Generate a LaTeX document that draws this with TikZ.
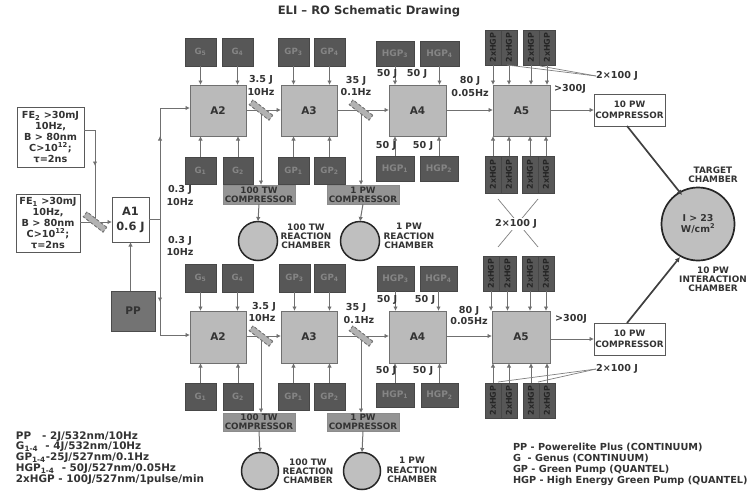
\documentclass[tikz,border=0pt]{standalone}
\usepackage{fontspec}
\setmainfont{DejaVu Sans}
\usetikzlibrary{arrows.meta,calc}
\definecolor{ink}{HTML}{333333}
\definecolor{wire}{HTML}{707070}
\tikzset{
  every node/.style={inner sep=0pt,outer sep=0pt,font=\bfseries\fontsize{8}{9}\selectfont,text=ink,align=center},
  amp/.style={draw=wire,line width=1pt,fill=black!27,font=\bfseries\fontsize{10.5}{12}\selectfont},
  gen/.style={draw=black!72,line width=1pt,fill=black!66,text=black!48,font=\bfseries\fontsize{8.6}{11}\selectfont},
  hgp/.style={gen,font=\bfseries\fontsize{9}{11}\selectfont},
  cell/.style={gen,text=black!85,font=\bfseries\fontsize{8}{9}\selectfont},
  pumpbox/.style={draw=black!70,line width=1pt,fill=black!55,text=ink,font=\bfseries\fontsize{10.5}{12}\selectfont},
  comp/.style={draw=black!45,line width=1pt,fill=black!42,text=ink,font=\bfseries\fontsize{8.8}{9}\selectfont},
  whitebox/.style={draw=black!65,line width=1pt,fill=white},
  fe/.style={whitebox,font=\bfseries\fontsize{9.7}{11}\selectfont},
  chamber/.style={circle,draw=black!85,line width=1.5pt,fill=black!25,minimum size=38pt},
  lab/.style={font=\bfseries\fontsize{9.6}{11}\selectfont},
  chlab/.style={font=\bfseries\fontsize{8.9}{9.2}\selectfont},
  legendL/.style={anchor=west,font=\bfseries\fontsize{10.4}{11}\selectfont},
  legendR/.style={anchor=west,font=\bfseries\fontsize{9.7}{11}\selectfont},
  conn/.style={draw=wire,line width=1pt},
  arr/.style={conn,-{Latex[length=4.5pt,width=4.5pt]}},
  heavy/.style={draw=black!75,line width=1.7pt,-{Latex[length=5pt,width=5pt]}},
  thin line/.style={draw=black!50,line width=.7pt},
  splitter/.style={draw=black!55,densely dashed,line width=.8pt,fill=black!30,minimum width=25pt,minimum height=6pt,rotate=-38},
}
% style, name, x1, y1, x2, y2, text
\newcommand\bx[7]{%
  \pgfmathsetmacro\bxw{#5-#3}\pgfmathsetmacro\bxh{#6-#4}%
  \pgfmathsetmacro\bxx{(#3+#5)/2}\pgfmathsetmacro\bxy{(#4+#6)/2}%
  \node[#1,minimum width=\bxw pt,minimum height=\bxh pt] (#2) at (\bxx,\bxy) {#7};}
\newcommand\sbs[1]{\textsubscript{#1}}
\begin{document}
\begin{tikzpicture}[x=1pt,y=-1pt]
\useasboundingbox[fill=white] (0,0) rectangle (751,490);
\node[font=\bfseries\fontsize{11.6}{13}\selectfont] (title) at (369,11) {ELI – RO Schematic Drawing};

% ---- front end
\bx{fe}{fetwo}{17}{107}{84}{167}{FE\sbs{2} >30mJ\\10Hz,\\B > 80nm\\C>10\textsuperscript{12};\\τ=2ns}
\bx{fe}{feone}{16}{194}{80}{252}{FE\sbs{1} >30mJ\\10Hz,\\B > 80nm\\C>10\textsuperscript{12};\\τ=2ns}
\bx{whitebox,font=\bfseries\fontsize{11.4}{15}\selectfont}{aone}{112}{197}{149}{242}{A1\\0.6 J}
\bx{pumpbox}{pp}{111}{291}{155}{331}{PP}
\node[splitter] (spf) at (95,222) {};

% ---- upper row
\bx{amp}{atwoT}{190}{85}{246}{136}{A2}
\bx{amp}{athreeT}{281}{85}{337}{136}{A3}
\bx{amp}{afourT}{389}{85}{446}{136}{A4}
\bx{amp}{afiveT}{493}{85}{550}{136}{A5}
\bx{gen}{gfiveT}{185}{38}{216}{66}{G\sbs{5}}
\bx{gen}{gfourT}{222}{38}{253}{66}{G\sbs{4}}
\bx{gen}{gpthreeT}{278}{38}{309}{66}{GP\sbs{3}}
\bx{gen}{gpfourT}{314}{38}{345}{66}{GP\sbs{4}}
\bx{hgp}{hthreeT}{376}{41}{414}{66}{HGP\sbs{3}}
\bx{hgp}{hfourT}{420}{41}{459}{66}{HGP\sbs{4}}
\bx{gen}{goneT}{185}{157}{216}{184}{G\sbs{1}}
\bx{gen}{gtwoT}{223}{157}{253}{184}{G\sbs{2}}
\bx{gen}{gponeT}{278}{157}{309}{184}{GP\sbs{1}}
\bx{gen}{gptwoT}{314}{157}{345}{184}{GP\sbs{2}}
\bx{hgp}{honeT}{376}{156}{414}{181}{HGP\sbs{1}}
\bx{hgp}{htwoT}{420}{156}{458}{181}{HGP\sbs{2}}
\bx{cell}{caT}{485}{30}{501}{65}{\rotatebox{90}{2xHGP}}
\bx{cell}{cbT}{501}{30}{517}{65}{\rotatebox{90}{2xHGP}}
\bx{cell}{ccT}{523}{30}{539}{65}{\rotatebox{90}{2xHGP}}
\bx{cell}{cdT}{539}{30}{555}{65}{\rotatebox{90}{2xHGP}}
\bx{cell}{ceT}{485}{156}{501}{193}{\rotatebox{90}{2xHGP}}
\bx{cell}{cfT}{501}{156}{517}{193}{\rotatebox{90}{2xHGP}}
\bx{cell}{cgT}{522}{156}{538}{193}{\rotatebox{90}{2xHGP}}
\bx{cell}{chT}{538}{156}{554}{193}{\rotatebox{90}{2xHGP}}
\bx{comp}{chunT}{223}{185}{295}{204}{100 TW\\COMPRESSOR}
\bx{comp}{cpwT}{327}{185}{399}{204}{1 PW\\COMPRESSOR}
\bx{whitebox,font=\bfseries\fontsize{8.8}{11}\selectfont}{ctenT}{594}{94}{665}{126}{10 PW\\COMPRESSOR}
\node[chamber,minimum size=39pt] (chhunT) at (258,241) {};
\node[chamber,minimum size=39pt] (chpwT) at (360,241) {};
\node[splitter] (spaT) at (261,110) {};
\node[splitter] (spbT) at (361,110) {};

% ---- lower row
\bx{amp}{atwoB}{190}{311}{246}{363}{A2}
\bx{amp}{athreeB}{281}{311}{337}{363}{A3}
\bx{amp}{afourB}{389}{311}{446}{363}{A4}
\bx{amp}{afiveB}{492}{311}{550}{363}{A5}
\bx{gen}{gfiveB}{185}{264}{216}{292}{G\sbs{5}}
\bx{gen}{gfourB}{222}{264}{253}{292}{G\sbs{4}}
\bx{gen}{gpthreeB}{279}{264}{310}{292}{GP\sbs{3}}
\bx{gen}{gpfourB}{314}{264}{345}{292}{GP\sbs{4}}
\bx{hgp}{hthreeB}{377}{266}{414}{291}{HGP\sbs{3}}
\bx{hgp}{hfourB}{420}{266}{457}{291}{HGP\sbs{4}}
\bx{gen}{goneB}{185}{383}{216}{410}{G\sbs{1}}
\bx{gen}{gtwoB}{223}{383}{253}{410}{G\sbs{2}}
\bx{gen}{gponeB}{278}{383}{309}{410}{GP\sbs{1}}
\bx{gen}{gptwoB}{314}{383}{345}{410}{GP\sbs{2}}
\bx{hgp}{honeB}{376}{383}{414}{407}{HGP\sbs{1}}
\bx{hgp}{htwoB}{421}{383}{458}{407}{HGP\sbs{2}}
\bx{cell}{caB}{483}{256}{499}{291}{\rotatebox{90}{2xHGP}}
\bx{cell}{cbB}{499}{256}{516}{291}{\rotatebox{90}{2xHGP}}
\bx{cell}{ccB}{522}{256}{538}{291}{\rotatebox{90}{2xHGP}}
\bx{cell}{cdB}{538}{256}{554}{291}{\rotatebox{90}{2xHGP}}
\bx{cell}{ceB}{485}{383}{501}{418}{\rotatebox{90}{2xHGP}}
\bx{cell}{cfB}{501}{383}{517}{418}{\rotatebox{90}{2xHGP}}
\bx{cell}{cgB}{523}{383}{539}{418}{\rotatebox{90}{2xHGP}}
\bx{cell}{chB}{539}{383}{555}{418}{\rotatebox{90}{2xHGP}}
\bx{comp}{chunB}{223}{413}{295}{431}{100 TW\\COMPRESSOR}
\bx{comp}{cpwB}{327}{413}{399}{431}{1 PW\\COMPRESSOR}
\bx{whitebox,font=\bfseries\fontsize{8.8}{11}\selectfont}{ctenB}{594}{323}{665}{355}{10 PW\\COMPRESSOR}
\node[chamber,minimum size=37pt] (chhunB) at (260,471) {};
\node[chamber,minimum size=37pt] (chpwB) at (362,471) {};
\node[splitter] (spaB) at (261,336) {};
\node[splitter] (spbB) at (361,336) {};

% ---- target chamber
\node[chamber,line width=1.7pt,minimum size=73pt,font=\bfseries\fontsize{9.4}{11.5}\selectfont] (target) at (698,224) {I > 23\\W/cm\textsuperscript{2}};

% ---- front-end connectors
\coordinate (fejoin) at (95,130);
\coordinate (femid) at (95,166);
\coordinate (busT) at (160,108);
\coordinate (busB) at (160,335);
\coordinate (busmid) at (160,219);
\coordinate (busmarkT) at (160,136);
\coordinate (busmarkB) at (160,302);
\draw[conn] (fetwo.east |- fejoin) -- (fejoin) -- (spf.center);
\draw[arr] (fejoin) -- (femid);
\draw[arr] (feone.east |- spf) -- (aone.west |- spf);
\draw[arr] (pp.north -| aone) -- (aone.south);
\draw[conn] (aone.east |- busmid) -- (busmid);
\draw[conn] (busT) -- (busB);
\draw[arr] (busmid) -- (busmarkT);
\draw[arr] (busmid) -- (busmarkB);
\draw[arr] (busT) -- (atwoT.west |- busT);
\draw[arr] (busB) -- (atwoB.west |- busB);

% ---- pump arrows, upper row
\foreach \g/\a in {gfiveT/atwoT,gfourT/atwoT,gpthreeT/athreeT,gpfourT/athreeT,hthreeT/afourT,hfourT/afourT,caT/afiveT,cbT/afiveT,ccT/afiveT,cdT/afiveT}
  \draw[arr] (\g.south) -- (\g.south |- \a.north);
\foreach \g/\a in {goneT/atwoT,gtwoT/atwoT,gponeT/athreeT,gptwoT/athreeT,honeT/afourT,htwoT/afourT,ceT/afiveT,cfT/afiveT,cgT/afiveT,chT/afiveT}
  \draw[arr] (\g.north) -- (\g.north |- \a.south);
% ---- pump arrows, lower row
\foreach \g/\a in {gfiveB/atwoB,gfourB/atwoB,gpthreeB/athreeB,gpfourB/athreeB,hthreeB/afourB,hfourB/afourB,caB/afiveB,cbB/afiveB,ccB/afiveB,cdB/afiveB}
  \draw[arr] (\g.south) -- (\g.south |- \a.north);
\foreach \g/\a in {goneB/atwoB,gtwoB/atwoB,gponeB/athreeB,gptwoB/athreeB,honeB/afourB,htwoB/afourB,ceB/afiveB,cfB/afiveB,cgB/afiveB,chB/afiveB}
  \draw[arr] (\g.north) -- (\g.north |- \a.south);

% ---- beam line
\foreach \r in {T,B}{
  \draw[arr] (atwo\r.east |- spa\r) -- (athree\r.west |- spa\r);
  \draw[arr] (athree\r.east |- spb\r) -- (afour\r.west |- spb\r);
  \draw[arr] (afour\r.east |- spb\r) -- (afive\r.west |- spb\r);
  \draw[arr] (spa\r.center) -- (spa\r.center |- chun\r.north);
  \draw[arr] (spb\r.center) -- (spb\r.center |- cpw\r.north);
  \draw[arr] (afive\r.east |- cten\r.west) -- (cten\r.west);
}
\foreach \r in {T,B}{
  \node[splitter] at (spa\r) {};
  \node[splitter] at (spb\r) {};
}
\node[splitter] at (spf) {};
\draw[arr] (chunT.south) -- (chhunT.north);
\draw[arr] (cpwT.south) -- (chpwT.north);
\draw[arr] (chunB.south) -- (chhunB.north);
\draw[arr] (cpwB.south) -- (chpwB.north);
\coordinate (ctenTout) at (627,126);
\coordinate (ctenBout) at (627,323);
\coordinate (targetIn) at (682,195);
\coordinate (targetInB) at (680,257);
\draw[heavy] (ctenTout) -- (targetIn);
\draw[heavy] (ctenBout) -- (targetInB);

% ---- 2x100 J callouts
\node[lab] (hundT) at (617,76) {2×100 J};
\node[lab] (hundB) at (617,369) {2×100 J};
\coordinate (hundTa) at (507,65);
\coordinate (hundTb) at (540,66);
\coordinate (hundBa) at (498,382);
\coordinate (hundBb) at (538,382);
\draw[thin line] (hundTa) -- (hundT.west);
\draw[thin line] (hundTb) -- (hundT.west);
\draw[thin line] (hundBa) -- (hundB.west);
\draw[thin line] (hundBb) -- (hundB.west);
\coordinate (xa) at (498,199);
\coordinate (xb) at (538,199);
\coordinate (xc) at (498,247);
\coordinate (xd) at (538,247);
\draw[thin line] (xa) -- (xd);
\draw[thin line] (xb) -- (xc);
\node[lab,fill=white,inner sep=1.5pt] (hundX) at (516,224) {2×100 J};

% ---- labels
\node[lab] at (261,80) {3.5 J};
\node[lab] at (261,92) {10Hz};
\node[lab] at (356,81) {35 J};
\node[lab] at (356,92) {0.1Hz};
\node[lab] at (387,74) {50 J};
\node[lab] at (417,74) {50 J};
\node[lab] at (386,146) {50 J};
\node[lab] at (423,146) {50 J};
\node[lab] at (470,81) {80 J};
\node[lab] at (470,93) {0.05Hz};
\node[lab] at (570,89) {>300J};
\node[lab] at (180,190) {0.3 J};
\node[lab] at (180,202) {10Hz};
\node[lab] at (180,241) {0.3 J};
\node[lab] at (180,252) {10Hz};
\node[lab] at (264,307) {3.5 J};
\node[lab] at (262,318) {10Hz};
\node[lab] at (356,308) {35 J};
\node[lab] at (359,320) {0.1Hz};
\node[lab] at (387,300) {50 J};
\node[lab] at (425,300) {50 J};
\node[lab] at (386,371) {50 J};
\node[lab] at (423,371) {50 J};
\node[lab] at (469,311) {80 J};
\node[lab] at (469,321) {0.05Hz};
\node[lab] at (571,319) {>300J};
\node[chlab] at (306,236) {100 TW\\REACTION\\CHAMBER};
\node[chlab] at (409,236) {1 PW\\REACTION\\CHAMBER};
\node[chlab] at (308,471) {100 TW\\REACTION\\CHAMBER};
\node[chlab] at (412,470) {1 PW\\REACTION\\CHAMBER};
\node[chlab] at (713,175) {TARGET\\CHAMBER};
\node[chlab] at (713,279) {10 PW\\INTERACTION\\CHAMBER};

% ---- legends
\node[legendL] at (16,437) {PP \ \ - 2J/532nm/10Hz};
\node[legendL] at (16,447) {G\sbs{1-4} \ - 4J/532nm/10Hz};
\node[legendL] at (16,458) {GP\sbs{1-4}-25J/527nm/0.1Hz};
\node[legendL] at (16,469) {HGP\sbs{1-4} \ - 50J/527nm/0.05Hz};
\node[legendL] at (16,480) {2xHGP - 100J/527nm/1pulse/min};
\node[legendR] at (513,447) {PP - Powerelite Plus (CONTINUUM)};
\node[legendR] at (513,458) {G \ - Genus (CONTINUUM)};
\node[legendR] at (513,470) {GP - Green Pump (QUANTEL)};
\node[legendR] at (513,481) {HGP - High Energy Green Pump (QUANTEL)};
\end{tikzpicture}
\end{document}
